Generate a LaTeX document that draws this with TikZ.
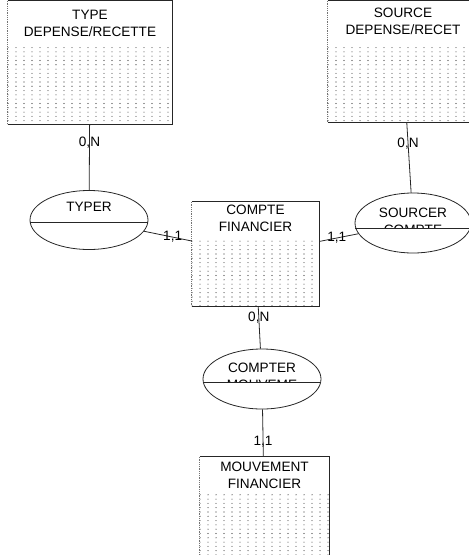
\documentclass[tikz,border=0pt]{standalone}
\usepackage{fontspec}
\setmainfont{Liberation Sans}
\usetikzlibrary{shapes.geometric,positioning,patterns}

\newcommand{\erfont}{\fontsize{13.6}{17}\selectfont}
% dotted fill of the entity bodies
\pgfdeclarepatternformonly{erdots}{\pgfqpoint{-1pt}{-1pt}}{\pgfqpoint{1pt}{1pt}}{\pgfqpoint{8pt}{4.3pt}}{%
  \pgfpathcircle{\pgfpointorigin}{0.55pt}\pgfusepath{fill}}

\tikzset{
  entity/.style={rectangle, draw=none, fill=white, inner sep=0pt},
  enttitle/.style={align=center, inner sep=1pt, font=\erfont},
  assoc/.style={ellipse, draw=black!85, line width=0.8pt, fill=white, inner sep=0pt,
    minimum width=118pt, minimum height=59pt},
  assoctitle/.style={align=center, inner sep=1pt, font=\erfont},
  link/.style={draw=black!85, line width=0.8pt},
  card/.style={inner sep=0pt, font=\erfont},
  dotzone/.style={pattern=erdots, pattern color=black!80},
}

\begin{document}
\begin{tikzpicture}[x=1pt, y=-1pt]
    \useasboundingbox (0,0) rectangle (469,555);
    \clip (0,0) rectangle (469,555);

    % entities
    \node[entity, minimum width=164pt, minimum height=123pt] (typedr) at (90,62.5) {};
    \node[entity, minimum width=150pt, minimum height=121pt] (sourcedr) at (403,61.5) {};
    \node[entity, minimum width=127pt, minimum height=104pt] (compte) at (255.5,254) {};
    \node[entity, minimum width=129pt, minimum height=130pt] (mouvt) at (264.5,522) {};

    \foreach \n/\d in {typedr/47, sourcedr/44, compte/37, mouvt/38} {
        \fill[dotzone] ([yshift=-\d pt]\n.north west) rectangle (\n.south east);
        \draw[link] (\n.south west) -- (\n.south east) -- (\n.north east) -- (\n.north west);
        \draw[link, densely dotted, black!55] (\n.north west) -- (\n.south west);
    }

    \node[enttitle, below=8pt of typedr.north] (typedrT) {TYPE\\DEPENSE/RECETTE};
    \node[enttitle, below=6pt of sourcedr.north] (sourcedrT) {SOURCE\\DEPENSE/RECET};
    \node[enttitle, below=2pt of compte.north] (compteT) {COMPTE\\FINANCIER};
    \node[enttitle, below=4pt of mouvt.north] (mouvtT) {MOUVEMENT\\FINANCIER};

    % associations
    \node[assoc] (typer) at (89,220) {};
    \node[assoc, minimum width=116pt, minimum height=60pt] (sourcer) at (413,223) {};
    \node[assoc, minimum height=60pt] (compter) at (262,379) {};

    \begin{scope}
        \clip (typer.north west) rectangle (typer.-2);
        \node[assoctitle, below=11pt of typer.north] (typerT) {TYPER};
    \end{scope}
    \begin{scope}
        \clip (sourcer.north west) rectangle (sourcer.-5);
        \node[assoctitle, below=14pt of sourcer.north] (sourcerT) {SOURCER\\COMPTE};
    \end{scope}
    \begin{scope}
        \clip (compter.north west) rectangle (compter.-3);
        \node[assoctitle, below=13pt of compter.north] (compterT) {COMPTER\\MOUVEME};
    \end{scope}

    \draw[link] (typer.182) -- (typer.-2);
    \draw[link] (sourcer.185) -- (sourcer.-5);
    \draw[link] (compter.183) -- (compter.-3);

    % links with cardinalities
    \draw[link] (typedr) -- node[card, pos=0.28] (c1) {0,N} (typer);
    \draw[link] (sourcedr) -- node[card, pos=0.3] (c2) {0,N} (sourcer);
    \draw[link] (typer) -- node[card, pos=0.6] (c3) {1,1} (compte);
    \draw[link] (compte) -- node[card, pos=0.45] (c4) {1,1} (sourcer);
    \draw[link] (compte) -- node[card, pos=0.28] (c5) {0,N} (compter);
    \draw[link] (compter) -- node[card, pos=0.69] (c6) {1,1} (mouvt);
\end{tikzpicture}
\end{document}
